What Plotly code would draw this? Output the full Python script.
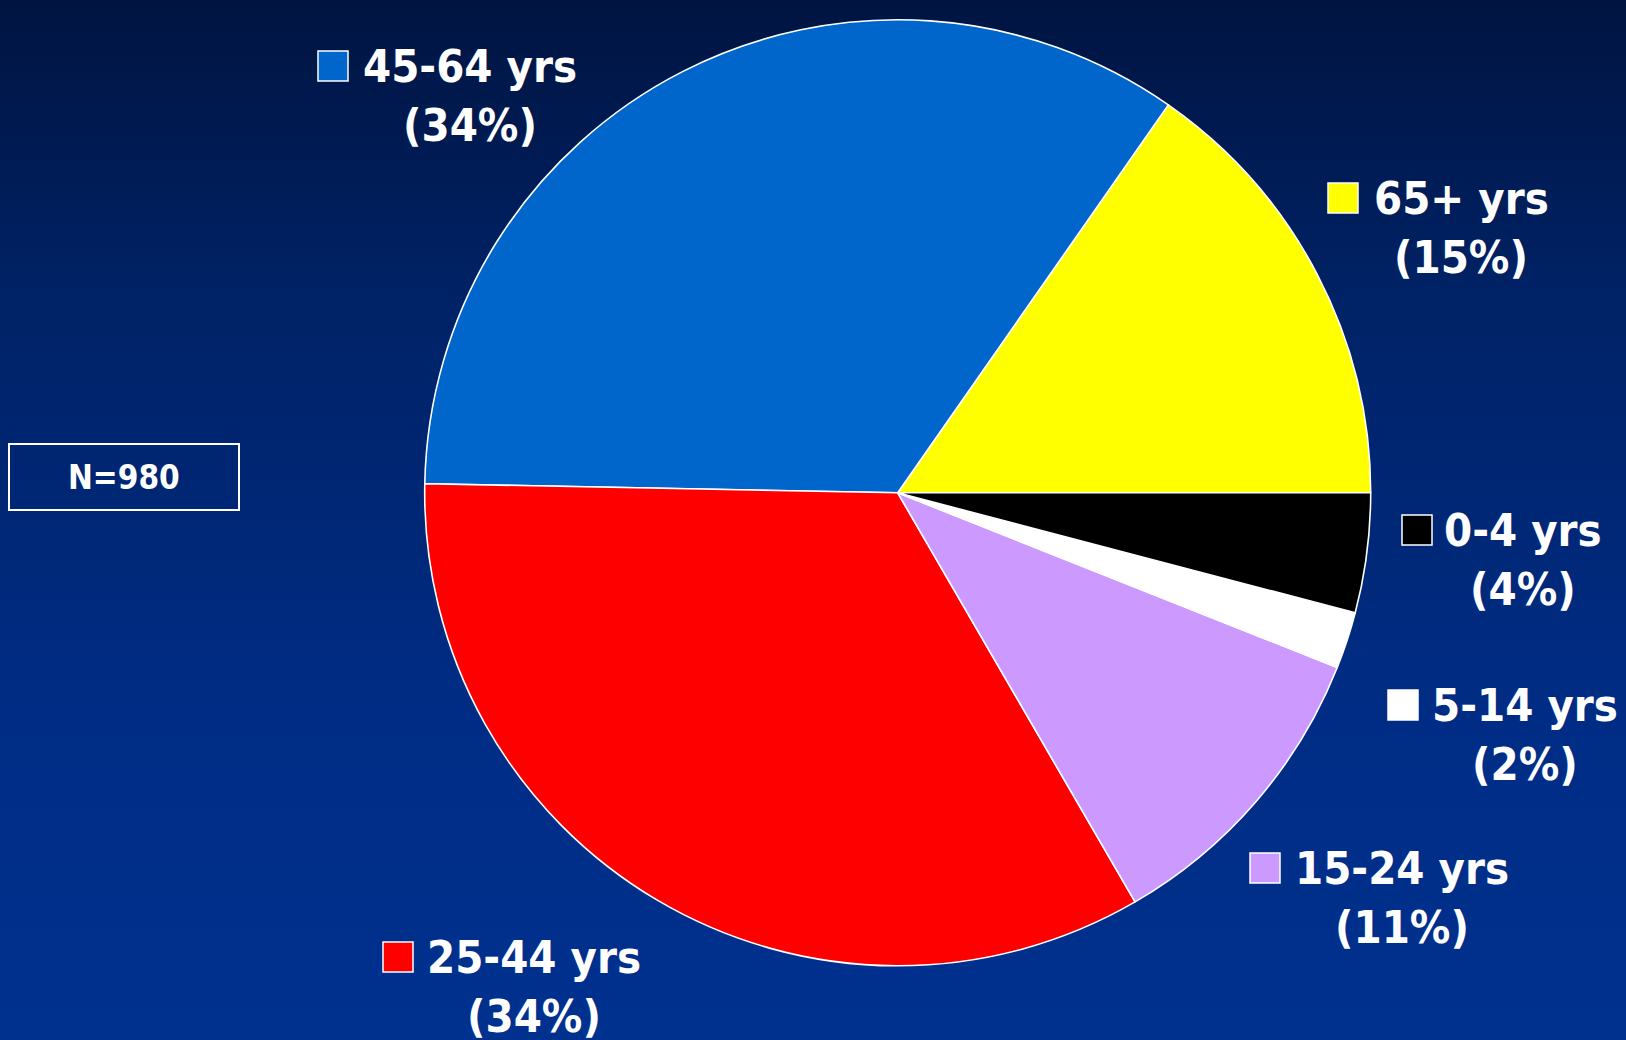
import plotly.graph_objects as go

# ---- data ----
age_groups = ["65+ yrs", "45-64 yrs", "25-44 yrs", "15-24 yrs", "5-14 yrs", "0-4 yrs"]
counts = [150, 337, 330, 104, 19, 40]
pct_labels = ["(15%)", "(34%)", "(34%)", "(11%)", "(2%)", "(4%)"]
slice_colors = ["#FFFF00", "#0066CC", "#FF0000", "#CC99FF", "#FFFFFF", "#000000"]
total_label = "N=980"

W, H = 1626, 1040
FONT = "DejaVu Sans Condensed, DejaVu Sans, sans-serif"

fig = go.Figure()

# first slice (65+) spans from 3 o'clock counterclockwise
first_angle = 360.0 * counts[0] / sum(counts)
cx, cy, r = 897.7, 492.8, 473.0
fig.add_trace(go.Pie(
    labels=age_groups,
    values=counts,
    sort=False,
    direction="counterclockwise",
    rotation=90 - first_angle,
    marker=dict(colors=slice_colors, line=dict(color="white", width=1.6)),
    textinfo="none",
    hoverinfo="label+value+percent",
    showlegend=False,
    domain=dict(x=[(cx - r) / W, (cx + r) / W],
                y=[(H - cy - r) / H, (H - cy + r) / H]),
))

shapes = []
# background vertical gradient (styling)
stops = [(0, (0, 20, 64)), (300, (0, 34, 102)), (700, (0, 44, 132)), (1040, (0, 49, 143))]
def col_at(y):
    for (y0, c0), (y1, c1) in zip(stops[:-1], stops[1:]):
        if y0 <= y <= y1:
            t = (y - y0) / (y1 - y0)
            return "rgb(%d,%d,%d)" % tuple(round(a + (b - a) * t) for a, b in zip(c0, c1))
    return "rgb(%d,%d,%d)" % stops[-1][1]

step = 8
for y in range(0, H, step):
    shapes.append(dict(type="rect", xref="paper", yref="paper", layer="below",
                       x0=0, x1=1, y0=1 - (y + step + 1) / H, y1=1 - y / H,
                       fillcolor=col_at(y + step / 2), line=dict(width=0)))

# label positions (pixels): text center x, first line center y, square center x
label_pos = {
    "45-64 yrs": (470, 66, 333),
    "65+ yrs": (1461, 198, 1343),
    "0-4 yrs": (1523, 530, 1417),
    "5-14 yrs": (1525, 705, 1403),
    "15-24 yrs": (1402, 868, 1265),
    "25-44 yrs": (534, 957, 398),
}
annotations = []
fs = 45
lh = 59
for name, pct, color in zip(age_groups, pct_labels, slice_colors):
    tx, ty, sx = label_pos[name]
    for i, line in enumerate([name, pct]):
        annotations.append(dict(
            x=tx / W, y=1 - (ty + i * lh) / H, xref="paper", yref="paper",
            text="<b>%s</b>" % line, showarrow=False,
            xanchor="center", yanchor="middle",
            font=dict(family=FONT, size=fs, color="white"),
        ))
    half = 15
    shapes.append(dict(type="rect", xref="paper", yref="paper",
                       x0=(sx - half) / W, x1=(sx + half) / W,
                       y0=1 - (ty + half) / H, y1=1 - (ty - half) / H,
                       fillcolor=color, line=dict(color="white", width=1.5)))

# N box
shapes.append(dict(type="rect", xref="paper", yref="paper",
                   x0=9 / W, x1=239 / W, y0=1 - 510 / H, y1=1 - 444 / H,
                   fillcolor="rgba(0,0,0,0)", line=dict(color="white", width=2)))
annotations.append(dict(x=124 / W, y=1 - 478 / H, xref="paper", yref="paper",
                        text="<b>%s</b>" % total_label, showarrow=False,
                        xanchor="center", yanchor="middle",
                        font=dict(family=FONT, size=33, color="white")))

fig.update_layout(
    width=W, height=H,
    margin=dict(l=0, r=0, t=0, b=0),
    paper_bgcolor="rgb(0,34,102)",
    plot_bgcolor="rgba(0,0,0,0)",
    shapes=shapes,
    annotations=annotations,
    showlegend=False,
)

fig.write_html(
    "out.html",
    config={"displayModeBar": False},
    post_script="document.body.style.margin='0';document.body.style.overflow='hidden';"
                "document.body.style.background='rgb(0,34,102)';",
)
